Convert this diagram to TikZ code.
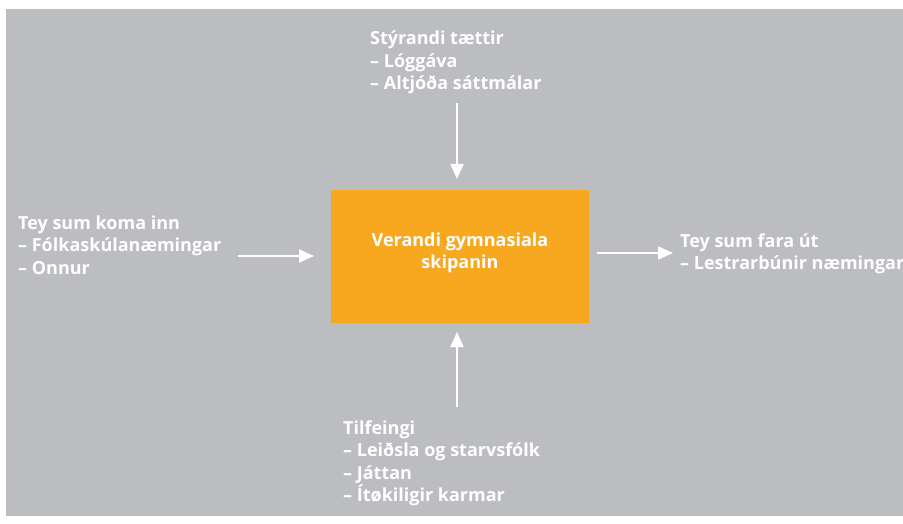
\documentclass[tikz,border=0pt]{standalone}
\usepackage{fontspec}
\setmainfont{Open Sans}
\usetikzlibrary{arrows.meta}
\definecolor{bggray}{HTML}{BCBDC0}
\definecolor{boxorange}{HTML}{F7A81E}
\begin{document}
\begin{tikzpicture}[x=1pt,y=-1pt,
  lbl/.style={text=white,font=\fontsize{18}{22.5}\selectfont\bfseries,align=left,inner sep=0pt,anchor=base west},
  flowarrow/.style={draw=white,line width=2pt,-{Triangle[width=13pt,length=15pt]}}]
\useasboundingbox (0,0) rectangle (903,524);
\fill[white] (0,0) rectangle (903,524);
\fill[bggray] (6,9) rectangle (903,516);
\node[fill=boxorange,minimum width=258pt,minimum height=133pt,inner sep=0pt] (box) at (460,256.5) {};
\node[text=white,font=\fontsize{18}{21.5}\selectfont\bfseries,align=center,inner sep=0pt,anchor=base] (boxtext) at (460,268.5) {Verandi gymnasiala\\skipanin};
\node[lbl] (top) at (370,90) {Stýrandi tættir\\– Lóggáva\\– Altjóða sáttmálar};
\node[lbl] (left) at (18,274) {Tey sum koma inn\\– Fólkaskúlanæmingar\\– Onnur};
\node[lbl] (right) at (680,269.5) {Tey sum fara út\\– Lestrarbúnir næmingar};
\node[lbl] (bottom) at (343,501.5) {Tilfeingi\\– Leiðsla og starvsfólk\\– Játtan\\– Ítøkiligir karmar};
\coordinate (topA) at (457,103);
\coordinate (topB) at (457,179);
\coordinate (botA) at (457,407);
\coordinate (botB) at (457,332);
\coordinate (leftA) at (238,256);
\coordinate (leftB) at (314,256);
\coordinate (rightA) at (597,253);
\coordinate (rightB) at (673,253);
\draw[flowarrow] (topA) -- (topB);
\draw[flowarrow] (botA) -- (botB);
\draw[flowarrow] (leftA) -- (leftB);
\draw[flowarrow] (rightA) -- (rightB);
\end{tikzpicture}
\end{document}
